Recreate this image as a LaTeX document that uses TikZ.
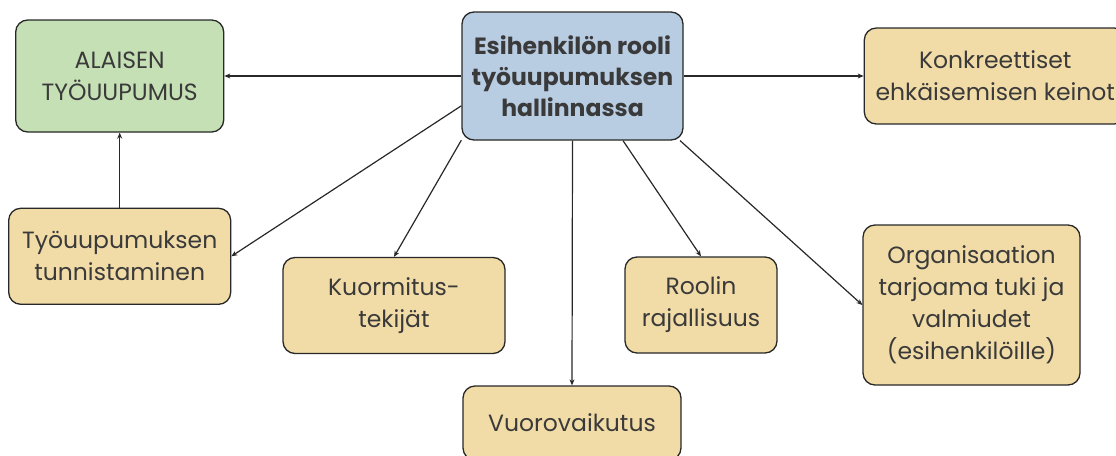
\documentclass[tikz,border=0pt]{standalone}
\usepackage{fontspec}
\setmainfont{Poppins}
\usepackage{tikz}
\usetikzlibrary{arrows.meta, positioning}
\definecolor{hubblue}{RGB}{184, 204, 226}
\definecolor{alertgreen}{RGB}{197, 224, 180}
\definecolor{themetan}{RGB}{241, 220, 167}
\definecolor{edgegray}{RGB}{40, 40, 40}
\definecolor{textgray}{RGB}{58, 58, 58}

\begin{document}
\begin{tikzpicture}[
    x=1pt, y=-1pt,
    box/.style={rectangle, rounded corners=12pt, draw=edgegray, line width=1.3pt,
                inner sep=0pt, align=center, text=textgray,
                font=\fontsize{23.5}{32}\selectfont},
    theme/.style={box, fill=themetan},
    arrow/.style={-{Stealth[length=6pt, width=5pt]}, line width=1.2pt, draw=edgegray},
]
\useasboundingbox (0,0) rectangle (1116,455);

% Central question
\node[box, fill=hubblue, minimum width=221pt, minimum height=128pt,
      font=\fontsize{23.5}{31}\selectfont\bfseries] (hub) at (572.5,76)
    {Esihenkilön rooli\\työuupumuksen\\hallinnassa};

% Outcome and its recognition
\node[box, fill=alertgreen, minimum width=208pt, minimum height=112pt,
      left=237pt of hub] (alaisen) {ALAISEN\\TYÖUUPUMUS};
\node[theme, minimum width=222pt, minimum height=96pt,
      below=75pt of alaisen] (tunnistus) {Työuupumuksen\\tunnistaminen};

% Themes around the hub
\node[theme, minimum width=262pt, minimum height=96pt,
      right=180pt of hub] (keinot) {Konkreettiset\\ehkäisemisen keinot};
\node[theme, minimum width=222pt, minimum height=96pt] (kuormitus) at (394,305.5)
    {Kuormitus-\\tekijät};
\node[theme, minimum width=152pt, minimum height=96pt] (rooli) at (701,305)
    {Roolin\\rajallisuus};
\node[theme, minimum width=218pt, minimum height=74pt] (vuoro) at (572,423)
    {Vuorovaikutus};
\node[theme, minimum width=217pt, minimum height=160pt] (tuki) at (971.5,305)
    {Organisaation\\tarjoama tuki ja\\valmiudet\\(esihenkilöille)};

% Arrows
\draw[arrow] (hub.west) -- (alaisen.east);
\draw[arrow] (hub.east) -- (keinot.west);
\draw[arrow] (tunnistus.north) -- (alaisen.south);
\draw[arrow] (hub.195) -- (tunnistus.east);
\draw[arrow] (hub.210) -- (kuormitus.north);
\draw[arrow] (hub.south) -- (vuoro.north);
\draw[arrow] (hub.-52) -- (rooli.north);
\draw[arrow] (hub.-31) -- (tuki.west);

\end{tikzpicture}
\end{document}
